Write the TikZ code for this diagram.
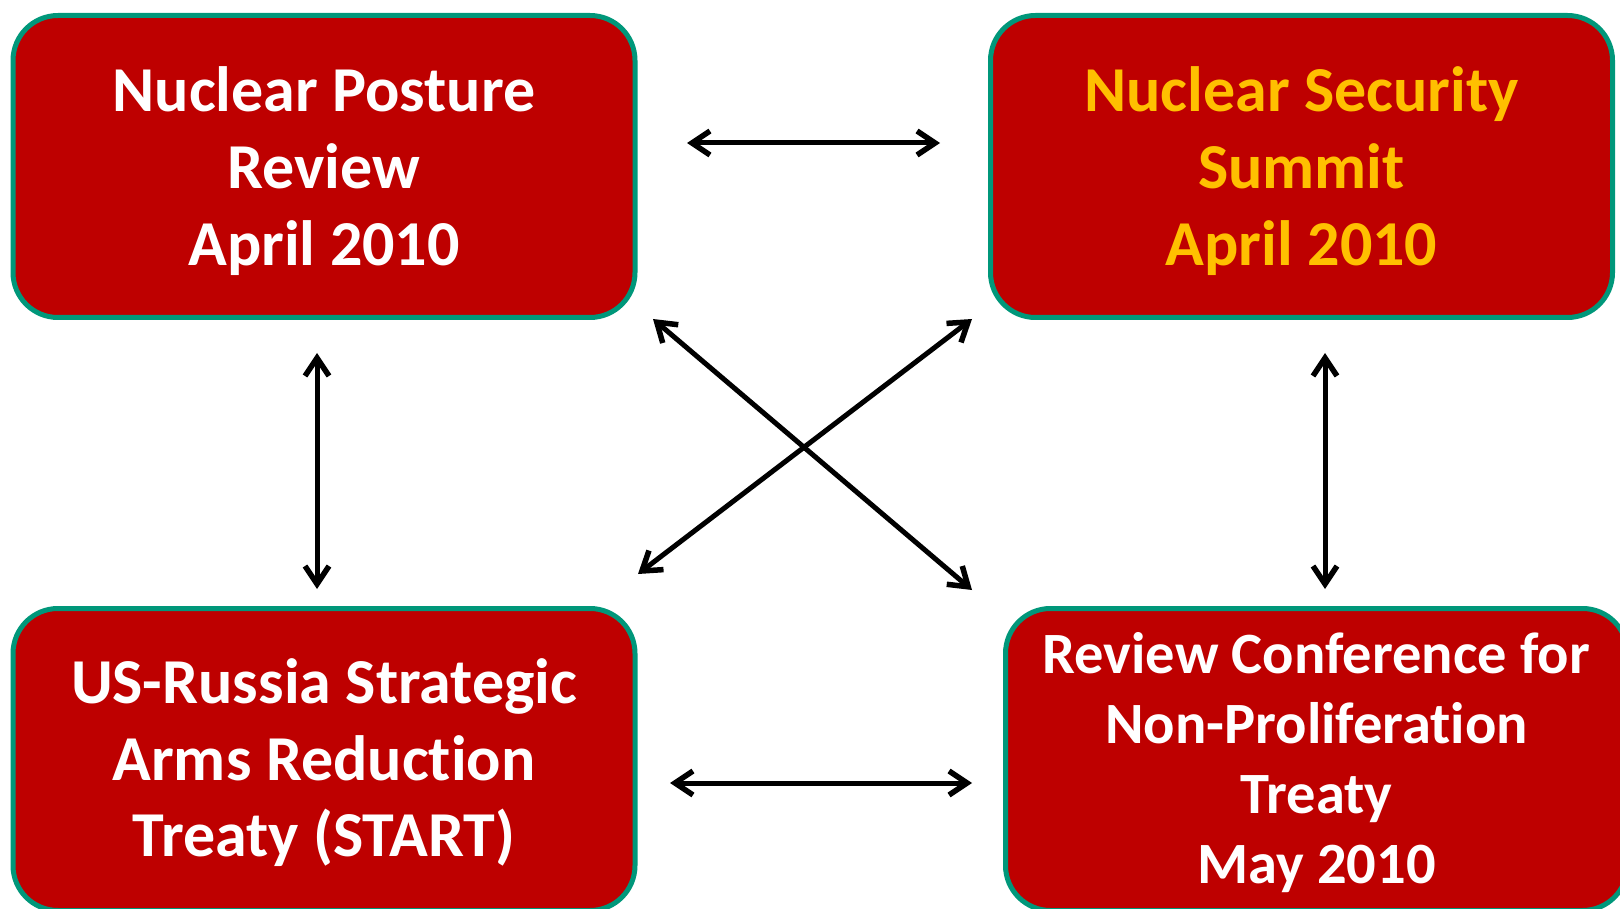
\documentclass[tikz,border=0pt]{standalone}
\usepackage{fontspec}
\setmainfont{Carlito}[Ligatures=NoCommon]
\usetikzlibrary{arrows.meta}
\definecolor{boxred}{HTML}{BE0000}
\definecolor{boxgreen}{HTML}{00977A}
\definecolor{titleyellow}{HTML}{FFC000}
\newcommand\tstrut[1]{\rule{0pt}{#1}}
\newcommand\bstrut[1]{\rule[-#1]{0pt}{0pt}}
\tikzset{
  eventbox/.style={draw=boxgreen, line width=5pt, fill=boxred, rounded corners=45pt,
    minimum width=622pt, minimum height=302pt, align=center, inner sep=0pt,
    font=\bfseries\fontsize{64}{76.7}\selectfont, text=white},
  smallbox/.style={eventbox, font=\bfseries\fontsize{58.5}{70.3}\selectfont},
  link/.style={line width=5pt, line cap=round,
    arrows={Straight Barb[length=18pt,width=24pt,line width=5.5pt]-Straight Barb[length=18pt,width=24pt,line width=5.5pt]}}
}
\begin{document}
\begin{tikzpicture}[x=1pt,y=-1pt]
\useasboundingbox (0,0) rectangle (1620,909);
\clip (0,0) rectangle (1620,909);
\node[eventbox] (npr) at (324,166.5) {\tstrut{64pt}Nuclear Posture\\Review\\April 2010\bstrut{20pt}};
\node[eventbox, text=titleyellow] (nss) at (1301.5,166.5) {\tstrut{64pt}Nuclear Security\\Summit\\April 2010\bstrut{20pt}};
\node[eventbox] (start) at (324,759.5) {\tstrut{61pt}US-Russia Strategic\\Arms Reduction\\Treaty (START)\bstrut{20pt}};
\node[smallbox] (npt) at (1316.5,759.5) {\tstrut{58pt}Review Conference for\\Non-Proliferation\\Treaty\\May 2010\bstrut{20pt}};
\coordinate (h1a) at (687,143);
\coordinate (h1b) at (940,143);
\coordinate (h2a) at (670,783);
\coordinate (h2b) at (972,783);
\coordinate (v1a) at (317,353);
\coordinate (v1b) at (317,589);
\coordinate (v2a) at (1325,353);
\coordinate (v2b) at (1325,589);
\coordinate (d1a) at (653,319);
\coordinate (d1b) at (972,590);
\coordinate (d2a) at (638,574);
\coordinate (d2b) at (972,319);
\draw[link] (h1a) -- (h1b);
\draw[link] (h2a) -- (h2b);
\draw[link] (v1a) -- (v1b);
\draw[link] (v2a) -- (v2b);
\draw[link] (d1a) -- (d1b);
\draw[link] (d2a) -- (d2b);
\end{tikzpicture}
\end{document}
